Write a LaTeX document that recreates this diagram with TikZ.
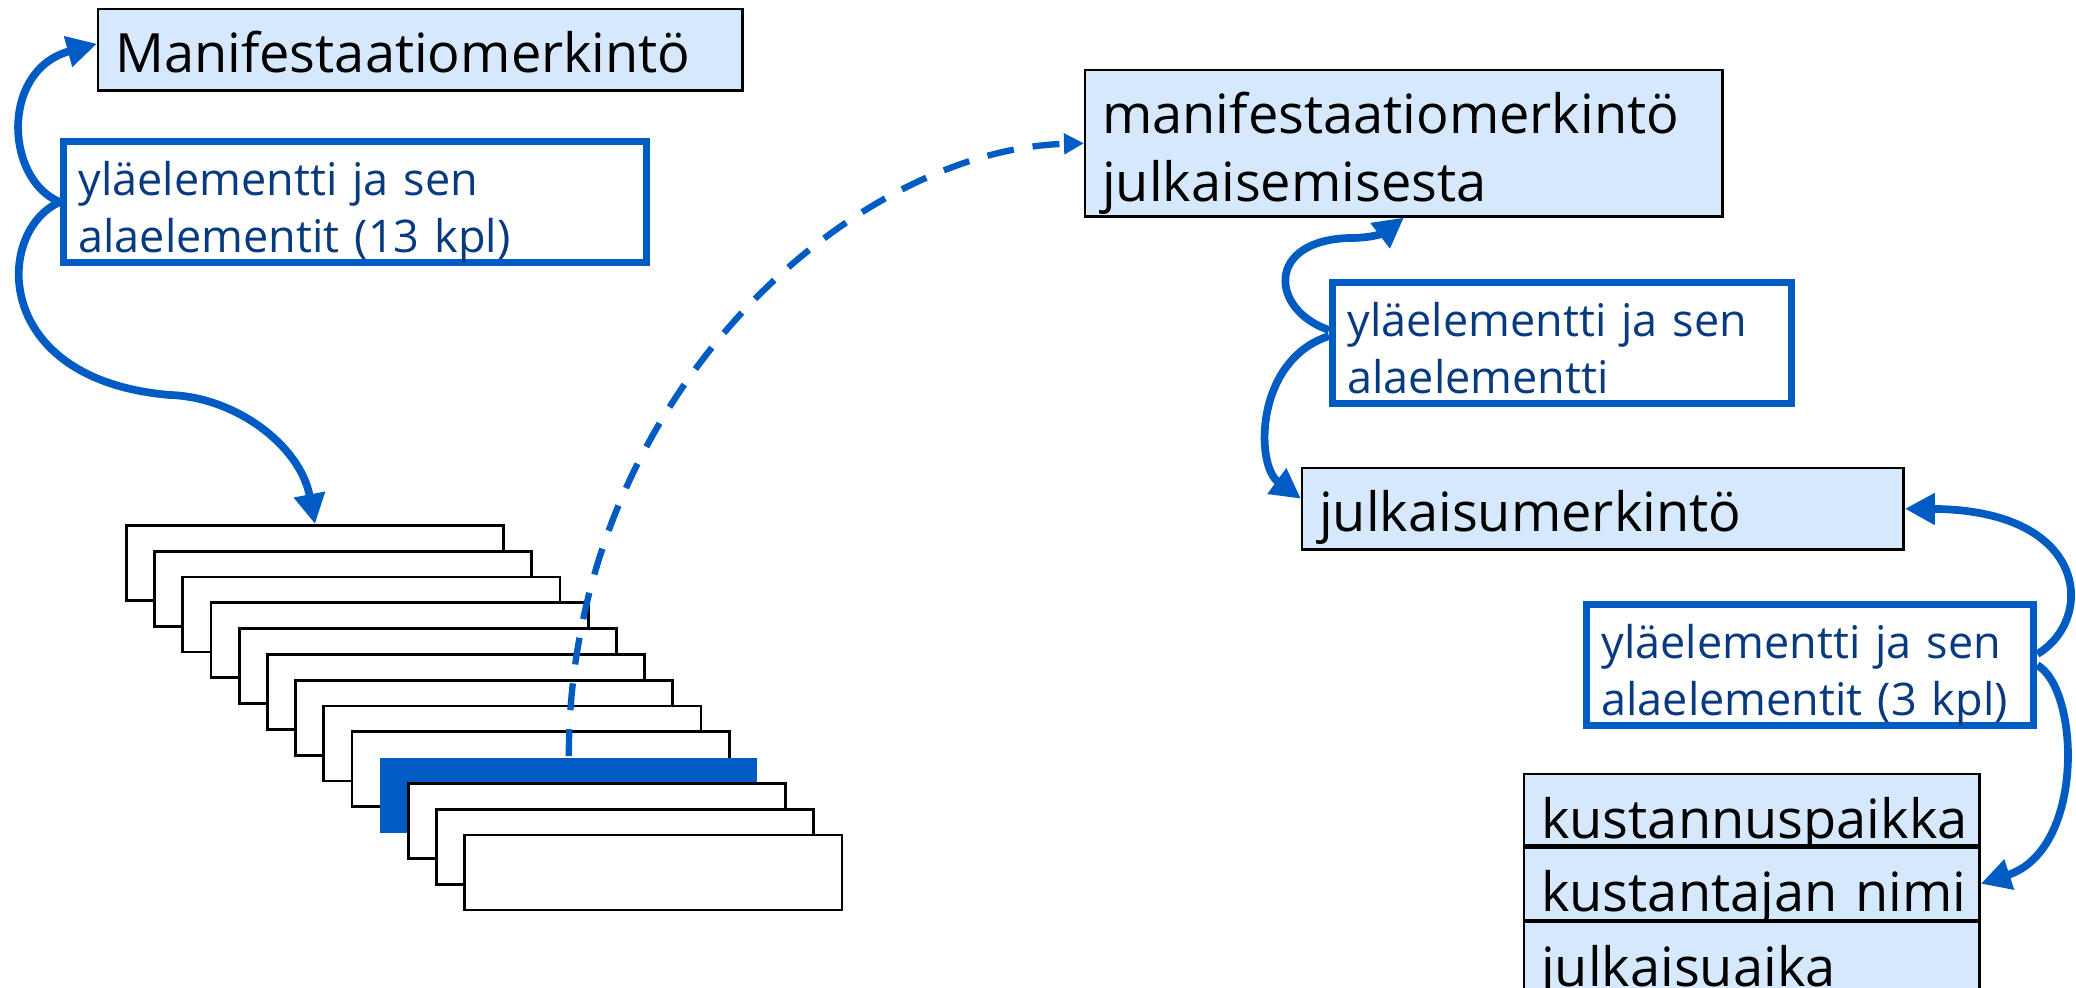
\documentclass[tikz,border=0pt]{standalone}
\usepackage{fontspec}
\setmainfont{Open Sans}
\usepackage{xcolor}
\usetikzlibrary{arrows.meta, positioning}

\definecolor{boxfill}{HTML}{D6E9FC}
\definecolor{linkblue}{HTML}{005CC3}
\definecolor{notetext}{HTML}{083A80}

\begin{document}
\begin{tikzpicture}[
    x=0.01cm, y=-0.01cm,
    % Merkintölaatikot (vaaleansininen tausta)
    entry/.style={
        rectangle,
        draw=black,
        line width=0.7pt,
        fill=boxfill,
        inner xsep=0.17cm,
        inner ysep=0pt,
        text height=0.63cm,
        text depth=0.18cm,
        align=left,
        anchor=north west,
        font=\fontsize{15.4}{19.3}\selectfont
    },
    % Selitelaatikot (sininen reuna)
    note/.style={
        rectangle,
        draw=linkblue,
        line width=2pt,
        fill=white,
        inner xsep=0.15cm,
        inner ysep=0pt,
        text height=0.535cm,
        text depth=0.675cm,
        align=left,
        anchor=north west,
        text=notetext,
        font=\fontsize{12.8}{16.2}\selectfont
    },
    % Alaelementtien pino
    sub/.style={
        rectangle,
        draw=black,
        line width=0.8pt,
        fill=white,
        minimum width=3.77cm,
        minimum height=0.75cm,
        anchor=north west
    },
    % Kaarevat nuolet
    link/.style={
        draw=linkblue,
        line width=2.2pt,
        -{Triangle[length=0.3cm,width=0.3cm]}
    }
]
    \useasboundingbox (0,0) rectangle (2076,988);

    % --- VASEN PUOLI ---
    \node[entry, text width=6.10cm] (manif) at (97,8) {Manifestaatiomerkintö};
    \node[note, text width=5.53cm] (lab1) at (60,138) {yläelementti ja sen\\alaelementit (13 kpl)};

    % 13 alaelementtiä, joista yksi korostettu
    \foreach \i in {0,...,12}{
        \ifnum\i=9
            \node[sub, draw=none, fill=linkblue] (sub\i) at ({125+28.2*\i},{524+25.8*\i}) {};
        \else
            \node[sub] (sub\i) at ({125+28.2*\i},{524+25.8*\i}) {};
        \fi
    }

    % --- OIKEA PUOLI ---
    \node[entry, text width=6.03cm, text depth=0.83cm] (pub) at (1084,69) {manifestaatiomerkintö\\julkaisemisesta};
    \node[note, text width=4.29cm] (lab2) at (1329,279) {yläelementti ja sen\\alaelementti};
    \node[entry, text width=5.67cm] (julk) at (1301,467) {julkaisumerkintö};
    \node[note, text width=4.17cm] (lab3) at (1583,601) {yläelementti ja sen\\alaelementit (3 kpl)};

    % Kolme alaelementtiä allekkain
    \node[entry, text width=4.21cm, text height=0.64cm, text depth=0.07cm] (place) at (1523,773) {kustannuspaikka};
    \node[entry, text width=4.21cm, text height=0.64cm, text depth=0.08cm, below=0cm of place] (name) {kustantajan~nimi};
    \node[entry, text width=4.21cm, text height=0.64cm, text depth=0.12cm, below=0cm of name] (time) {julkaisuaika};

    % --- NUOLET ---
    \draw[link] (lab1.west) .. controls (5,180) and (0,70) .. ([yshift=0.06cm]manif.west);
    \draw[link] (lab1.west) .. controls (-5,230) and (-10,380) .. (170,395)
        .. controls (235,397) and (300,445) .. (sub0.north);

    \draw[link, line width=1.8pt, dash pattern=on 0.27cm off 0.19cm,
        -{Triangle[length=0.2cm,width=0.2cm]}] (sub9.north) .. controls (569,400) and (850,150) .. (pub.west);

    \draw[link] ([yshift=0.13cm]lab2.west) .. controls (1270,310) and (1265,240) .. (1350,238)
        .. controls (1375,238) and (1385,232) .. (pub.south);
    \draw[link] ([yshift=0.07cm]lab2.west) .. controls (1255,360) and (1255,465) .. ([yshift=0.1cm]julk.west);

    \draw[link] ([yshift=0.11cm]lab3.east) .. controls (2095,620) and (2090,510) .. (julk.east);
    \draw[link] (lab3.east) .. controls (2080,690) and (2085,850) .. (name.east);

\end{tikzpicture}
\end{document}
